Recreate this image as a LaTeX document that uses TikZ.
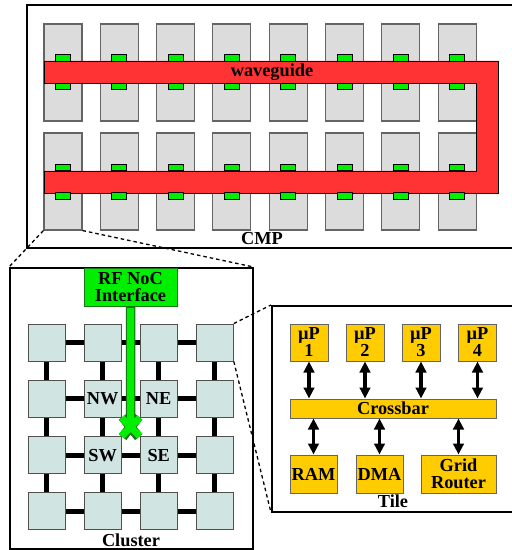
\documentclass[tikz,border=0pt]{standalone}
\usepackage{fontspec}
\setmainfont{Liberation Serif}
\usetikzlibrary{arrows.meta,backgrounds}
\definecolor{tilegray}{RGB}{220,220,220}
\definecolor{tileedge}{RGB}{100,100,100}
\definecolor{padgreen}{RGB}{0,238,0}
\definecolor{wgred}{RGB}{255,51,51}
\definecolor{cltile}{RGB}{208,228,226}
\definecolor{yel}{RGB}{255,204,0}
\definecolor{dkgreen}{RGB}{20,120,20}
\tikzset{
  bigbox/.style={draw=black, line width=1.6bp, fill=none},
  cmptile/.style={draw=tileedge, fill=tilegray, line width=1.1bp, minimum width=38bp, minimum height=97bp, inner sep=0pt},
  pad/.style={draw=black, fill=padgreen, line width=0.9bp, minimum width=15bp, minimum height=6.5bp, inner sep=0pt},
  cltile/.style={draw=tileedge!80!black, fill=cltile, line width=1bp, minimum width=37bp, minimum height=37bp, inner sep=0pt},
  link/.style={draw=black, line width=4.8bp},
  ybox/.style={draw=tileedge, fill=yel, line width=1bp, inner sep=0pt, align=center},
  dblarrow/.style={draw=black, line width=3.8bp, {Triangle[width=10.5bp,length=11bp]}-{Triangle[width=10.5bp,length=11bp]}},
  zoomline/.style={draw=black, line width=1.3bp, dash pattern=on 3.5bp off 3bp},
  lbl/.style={inner sep=0pt, align=center}
}
\begin{document}
\begin{tikzpicture}[x=1bp, y=-1bp, font=\bfseries\fontsize{18.3bp}{17bp}\selectfont]
\useasboundingbox (0,0) rectangle (512,550);
% ---------- CMP ----------
\draw[bigbox] (27,5) rectangle (516,248);
\foreach \c in {0,...,7} {
  \pgfmathsetmacro\xx{63+56.3*\c}
  \node[cmptile] (ta\c) at (\xx,72.5) {};
  \node[cmptile] (tb\c) at (\xx,181.5) {};
}
\draw[draw=black, line width=0.9bp, fill=wgred]
  (44,61) -- (498,61) -- (498,193) -- (44,193) -- (44,171) -- (476,171) -- (476,83) -- (44,83) -- cycle;
\foreach \c in {0,...,7} {
  \pgfmathsetmacro\xx{63+56.3*\c}
  \node[pad] (pa\c) at (\xx,58) {};
  \node[pad] (pb\c) at (\xx,86.5) {};
  \node[pad] (pc\c) at (\xx,167.5) {};
  \node[pad] (pd\c) at (\xx,196) {};
}
\node[lbl] (wg) at (272,72) {waveguide};
\node[lbl] (cmp) at (262,239) {CMP};
% ---------- Cluster ----------
\node[bigbox, draw, minimum width=243bp, minimum height=281bp, inner sep=0pt, anchor=north west] (cluster) at (9,267) {};
\node[lbl] (cllbl) at (131,540) {Cluster};
\foreach \i in {0,...,3} {
  \foreach \j in {0,...,3} {
    \pgfmathsetmacro\xx{46.5+56.1*\i}
    \pgfmathsetmacro\yy{342.5+56.3*\j}
    \node[cltile] (c\i\j) at (\xx,\yy) {};
  }
}
\node[lbl] at (c11) {NW};
\node[lbl] at (c21) {NE};
\node[lbl] at (c12) {SW};
\node[lbl] at (c22) {SE};
\begin{scope}[on background layer]
  \foreach \a/\b in {0/1,1/2,2/3} {
    \foreach \k in {0,...,3} {
      \draw[link] (c\a\k) -- (c\b\k);
      \draw[link] (c\k\a) -- (c\k\b);
    }
  }
\end{scope}
\node[draw=dkgreen, fill=padgreen, line width=1bp, minimum width=93bp, minimum height=38bp, inner sep=0pt, align=center, anchor=north] (rf) at (130.5,268) {RF NoC\\Interface};
\coordinate (ctr) at (130.5,427);
\draw[dkgreen, line width=9.5bp, line join=round]
  (rf.south) -- (ctr) -- ([shift={(1bp,1bp)}]c11.south east) (ctr) -- ([shift={(-1bp,1bp)}]c21.south west)
  (ctr) -- ([shift={(1bp,-1bp)}]c12.north east) (ctr) -- ([shift={(-1bp,-1bp)}]c22.north west);
\draw[padgreen, line width=7bp, line join=round]
  ([yshift=-1bp]rf.south) -- (ctr) -- (c11.south east) (ctr) -- (c21.south west)
  (ctr) -- (c12.north east) (ctr) -- (c22.north west);
% ---------- Tile ----------
\node[bigbox, draw, minimum width=246bp, minimum height=206bp, inner sep=0pt, anchor=north west] (tile) at (271,305) {};
\node[lbl] (tilelbl) at (393,501) {Tile};
\node[ybox, minimum width=38bp, minimum height=37bp] (p1) at (309,342.5) {µP\\1};
\node[ybox, minimum width=38bp, minimum height=37bp] (p2) at (365,342.5) {µP\\2};
\node[ybox, minimum width=38bp, minimum height=37bp] (p3) at (421,342.5) {µP\\3};
\node[ybox, minimum width=38bp, minimum height=37bp] (p4) at (477.5,342.5) {µP\\4};
\node[ybox, minimum width=206bp, minimum height=19bp] (xbar) at (393,408.5) {Crossbar};
\node[ybox, minimum width=47bp, minimum height=38bp] (ram) at (313.5,474) {RAM};
\node[ybox, minimum width=47bp, minimum height=38bp] (dma) at (379.5,474) {DMA};
\node[ybox, minimum width=75bp, minimum height=38bp] (grid) at (458.5,474) {Grid\\Router};
\foreach \p in {p1,p2,p3,p4} {
  \draw[dblarrow] (\p.south) -- (\p.south |- xbar.north);
}
\foreach \q in {ram,dma,grid} {
  \draw[dblarrow] (\q.north |- xbar.south) -- (\q.north);
}
% ---------- zoom lines ----------
\draw[zoomline] (tb0.south west) -- (cluster.north west);
\draw[zoomline] (tb0.south east) -- (cluster.north east);
\draw[zoomline] (c30.north east) -- (tile.north west);
\draw[zoomline] (c30.south east) -- (tile.south west);
\end{tikzpicture}
\end{document}
